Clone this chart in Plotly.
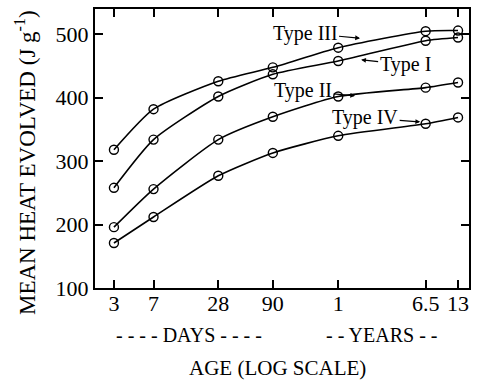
import math
import plotly.graph_objects as go

# ---- data ----
age_labels = ["3", "7", "28", "90", "1", "6.5", "13"]
age_days = [3, 7, 28, 90, 365, 2372, 4745]
type_III = [318, 382, 426, 448, 479, 505, 506]
type_I = [258, 334, 402, 437, 458, 490, 495]
type_II = [196, 256, 334, 370, 402, 416, 424]
type_IV = [171, 212, 277, 313, 340, 359, 369]

FONT = "Liberation Serif, Times New Roman, serif"

fig = go.Figure()
for name, vals in [("Type III", type_III), ("Type I", type_I),
                   ("Type II", type_II), ("Type IV", type_IV)]:
    fig.add_trace(go.Scatter(
        x=age_days, y=vals, name=name, mode="lines+markers",
        line=dict(color="black", width=1.6, shape="spline", smoothing=0.6),
        marker=dict(symbol="circle-open", size=9, color="black",
                    line=dict(width=1.4, color="black")),
        showlegend=False,
    ))

# labels with arrows: (text, arrow tip age days, arrow tip value, ax, ay)
labels = [
    ("Type III", 582, 494, -55, -5),
    ("Type I", 596, 460, 44, 5),
    ("Type II", 524, 403, -52, -5),
    ("Type IV", 2110, 362, -55, -4),
]
for txt, xd, yv, ax, ay in labels:
    fig.add_annotation(
        x=math.log10(xd), y=yv, xref="x", yref="y", text=txt,
        showarrow=True, ax=ax, ay=ay, arrowhead=2, arrowsize=0.8,
        arrowwidth=1.2, arrowcolor="black",
        font=dict(family=FONT, size=20, color="black"),
    )

fig.add_annotation(x=0.251, y=-0.168, xref="paper", yref="paper",
                   xanchor="center", yanchor="middle",
                   text="- - - - DAYS - - - -", showarrow=False,
                   font=dict(family=FONT, size=20, color="black"))
fig.add_annotation(x=0.765, y=-0.168, xref="paper", yref="paper",
                   xanchor="center", yanchor="middle",
                   text="- - YEARS - -", showarrow=False,
                   font=dict(family=FONT, size=20, color="black"))
fig.add_annotation(x=0.487, y=-0.287, xref="paper", yref="paper",
                   xanchor="center", yanchor="middle",
                   text="AGE (LOG SCALE)", showarrow=False,
                   font=dict(family=FONT, size=21, color="black"))
fig.add_annotation(x=-0.187, y=0.448, xref="paper", yref="paper",
                   xanchor="center", yanchor="middle", textangle=-90,
                   text="MEAN HEAT EVOLVED (J g<sup>-1</sup>)", showarrow=False,
                   font=dict(family=FONT, size=23, color="black"))

fig.update_layout(
    width=478, height=382,
    margin=dict(l=95, r=9, t=9, b=94),
    paper_bgcolor="white", plot_bgcolor="white",
    font=dict(family=FONT, size=22, color="black"),
    xaxis=dict(
        type="log", range=[math.log10(2.0), math.log10(6000)],
        tickvals=age_days, ticktext=age_labels,
        ticks="inside", ticklen=8, tickwidth=1.5, tickcolor="black",
        showline=True, linewidth=2, linecolor="black", mirror="ticks",
        showgrid=False, zeroline=False, automargin=False,
        ticklabelstandoff=-5,
        tickfont=dict(family=FONT, size=22),
    ),
    yaxis=dict(
        range=[100, 540], tickvals=[100, 200, 300, 400, 500],
        ticks="inside", ticklen=8, tickwidth=1.5, tickcolor="black",
        showline=True, linewidth=2, linecolor="black", mirror="ticks",
        showgrid=False, zeroline=False, automargin=False,
        tickfont=dict(family=FONT, size=22),
    ),
)

fig.write_html("out.html")
